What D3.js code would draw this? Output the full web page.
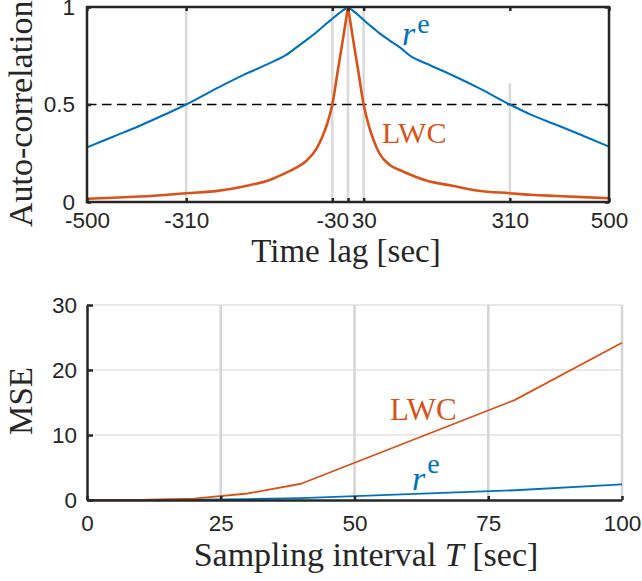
<!DOCTYPE html>
<html>
<head>
<meta charset="utf-8">
<script src="https://cdn.jsdelivr.net/npm/d3@7"></script>
<style>
  html, body { margin: 0; padding: 0; background: #fff; }
  svg { display: block; }
</style>
</head>
<body>
<svg id="chart" width="642" height="581"></svg>
<script>
// ---------- data: top panel (auto-correlation) ----------
const lags = [-500,-450,-400,-350,-310,-250,-200,-150,-120,-100,-80,-60,-50,-40,-30,-20,-10,0,
              10,20,30,40,50,60,80,100,120,150,200,250,310,350,400,450,500];
const acfRe = [0.28,0.335,0.39,0.45,0.5,0.585,0.652,0.712,0.752,0.79,0.83,0.872,0.895,0.918,0.94,0.962,0.982,1,
               0.98,0.958,0.933,0.91,0.888,0.866,0.828,0.792,0.748,0.71,0.65,0.585,0.5,0.448,0.395,0.34,0.284];
const acfLWC = [0.017,0.022,0.028,0.036,0.045,0.057,0.08,0.113,0.148,0.175,0.21,0.275,0.33,0.4,0.5,0.665,0.83,1,
                0.83,0.665,0.5,0.39,0.31,0.25,0.19,0.163,0.14,0.11,0.083,0.058,0.045,0.037,0.031,0.025,0.019];
const lagTicks = [-500,-310,-30,0,30,310,500];
const lagTickLabels = ["-500","-310","-30","","30","310","500"];
const acfTicks = [0,0.5,1];
const acfTickLabels = ["0","0.5","1"];
const refLags = [-310,-30,0,30,310];
const refTops = [1,1,1,1,0.61];
const halfLevel = 0.5;

// ---------- data: bottom panel (MSE) ----------
const Tvals = [0,10,20,30,40,80,100];
const mseLWC = [0,0.03,0.2,1.0,2.5,15.4,24.2];
const mseRe = [0,0.01,0.05,0.15,0.3,1.5,2.4];
const TTicks = [0,25,50,75,100];
const TTickLabels = ["0","25","50","75","100"];
const mseTicks = [0,10,20,30];
const mseTickLabels = ["0","10","20","30"];
const TGrid = [25,50,75,100];
const mseGrid = [10,20,30];

// ---------- styles ----------
const BLUE = "#0072BD", ORANGE = "#D95319", AX = "#262626";
const SANS = "'Liberation Sans', Arial, sans-serif";
const SERIF = "'Liberation Serif', 'Times New Roman', serif";
const TICKFS = "22.5px";

const svg = d3.select("#chart");

// ================= TOP PANEL =================
const xT = d3.scaleLinear().domain([-500,500]).range([87,609]);
const yT = d3.scaleLinear().domain([0,1]).range([202,7]);
const gT = svg.append("g");

// reference grey lines
gT.selectAll("line.ref").data(refLags).join("line")
  .attr("x1", d => xT(d)).attr("x2", d => xT(d))
  .attr("y1", yT(0)).attr("y2", (d,i) => yT(refTops[i]))
  .attr("stroke", "#dadada").attr("stroke-width", 2.6);

// dashed 0.5 line
gT.append("line")
  .attr("x1", xT(-500)).attr("x2", xT(500))
  .attr("y1", yT(halfLevel)).attr("y2", yT(halfLevel))
  .attr("stroke", "#000").attr("stroke-width", 1.6)
  .attr("stroke-dasharray", "9.5,5.5");

// each curve drawn as two smooth halves meeting at the sharp peak (lag 0)
const peak = lags.indexOf(0);
const lineGen = d3.line().curve(d3.curveMonotoneX).x(d => xT(d[0])).y(d => yT(d[1]));
const halves = (vals) => {
  const pts = lags.map((l,i) => [l, vals[i]]);
  return lineGen(pts.slice(0, peak+1)) + lineGen(pts.slice(peak));
};
gT.append("path").attr("d", halves(acfRe)).attr("fill","none")
  .attr("stroke", BLUE).attr("stroke-width", 2.1).attr("stroke-linejoin","round");
gT.append("path").attr("d", halves(acfLWC)).attr("fill","none")
  .attr("stroke", ORANGE).attr("stroke-width", 2.6).attr("stroke-linejoin","round");

// axes (ticks inward)
const axBT = gT.append("g").attr("transform", `translate(0,${yT(0)})`)
  .call(d3.axisBottom(xT).tickValues(lagTicks).tickFormat((d,i) => lagTickLabels[i])
        .tickSizeInner(-4).tickSizeOuter(0).tickPadding(10));
const axTT = gT.append("g").attr("transform", `translate(0,${yT(1)})`)
  .call(d3.axisTop(xT).tickValues(lagTicks).tickFormat("").tickSizeInner(-4).tickSizeOuter(0));
const axLT = gT.append("g").attr("transform", `translate(${xT(-500)},0)`)
  .call(d3.axisLeft(yT).tickValues(acfTicks).tickFormat((d,i) => acfTickLabels[i])
        .tickSizeInner(-4).tickSizeOuter(0).tickPadding(12));
const axRT = gT.append("g").attr("transform", `translate(${xT(500)},0)`)
  .call(d3.axisRight(yT).tickValues(acfTicks).tickFormat("").tickSizeInner(-4).tickSizeOuter(0));
[axBT, axTT, axLT, axRT].forEach(a => {
  a.select(".domain").remove();
  a.selectAll(".tick line").attr("stroke", AX).attr("stroke-width", 2.5);
  a.selectAll(".tick text").attr("fill", AX).style("font-family", SANS).style("font-size", TICKFS);
});
// box
gT.append("rect").attr("x", xT(-500)).attr("y", yT(1))
  .attr("width", xT(500)-xT(-500)).attr("height", yT(0)-yT(1))
  .attr("fill","none").attr("stroke", AX).attr("stroke-width", 2.5);

// labels
gT.append("text").attr("x", 346).attr("y", 262).attr("text-anchor","middle")
  .style("font-family", SERIF).style("font-size","33px").attr("fill", AX)
  .text("Time lag [sec]");
gT.append("text").attr("transform","translate(32,227) rotate(-90)").attr("text-anchor","start")
  .style("font-family", SERIF).style("font-size","34px").attr("fill", AX)
  .text("Auto-correlation");
gT.append("text").attr("x", 382).attr("y", 143)
  .style("font-family", SERIF).style("font-size","30px").attr("fill", ORANGE).text("LWC");
const reT = gT.append("text").attr("x", 402).attr("y", 45).attr("fill", BLUE).style("font-family", SERIF);
reT.append("tspan").style("font-style","italic").style("font-size","34px").text("r");
reT.append("tspan").attr("dx", 2).attr("dy", -12).style("font-size","28px").text("e");

// ================= BOTTOM PANEL =================
const xB = d3.scaleLinear().domain([0,100]).range([87,622]);
const yB = d3.scaleLinear().domain([0,30]).range([500,305]);
const gB = svg.append("g");

// horizontal grid
gB.selectAll("line.hg").data(mseGrid).join("line")
  .attr("x1", xB(0)).attr("x2", xB(100)).attr("y1", d => yB(d)).attr("y2", d => yB(d))
  .attr("stroke", "#e2e2e2").attr("stroke-width", 1.3);
// vertical grey lines
gB.selectAll("line.vg").data(TGrid).join("line")
  .attr("x1", d => xB(d)).attr("x2", d => xB(d)).attr("y1", yB(0)).attr("y2", yB(30))
  .attr("stroke", "#d6d6d6").attr("stroke-width", 2.6);

const lineB = (vals) => d3.line().x((d,i) => xB(Tvals[i])).y(d => yB(d))(vals);
gB.append("path").attr("d", lineB(mseRe)).attr("fill","none")
  .attr("stroke", BLUE).attr("stroke-width", 1.8).attr("stroke-linejoin","round");
gB.append("path").attr("d", lineB(mseLWC)).attr("fill","none")
  .attr("stroke", ORANGE).attr("stroke-width", 1.8).attr("stroke-linejoin","round");

const axBB = gB.append("g").attr("transform", `translate(0,${yB(0)})`)
  .call(d3.axisBottom(xB).tickValues(TTicks).tickFormat((d,i) => TTickLabels[i])
        .tickSizeInner(-4).tickSizeOuter(0).tickPadding(15));
const axLB = gB.append("g").attr("transform", `translate(${xB(0)},0)`)
  .call(d3.axisLeft(yB).tickValues(mseTicks).tickFormat((d,i) => mseTickLabels[i])
        .tickSizeInner(-6).tickSizeOuter(0).tickPadding(10));
[axBB, axLB].forEach(a => {
  a.select(".domain").attr("stroke", AX).attr("stroke-width", 2.5);
  a.selectAll(".tick line").attr("stroke", AX).attr("stroke-width", 2.5);
  a.selectAll(".tick text").attr("fill", AX).style("font-family", SANS).style("font-size", TICKFS);
});

gB.append("text").attr("x", 366).attr("y", 566).attr("text-anchor","middle")
  .style("font-family", SERIF).style("font-size","34px").attr("fill", AX)
  .call(t => {
    t.append("tspan").text("Sampling interval ");
    t.append("tspan").style("font-style","italic").text("T");
    t.append("tspan").text(" [sec]");
  });
gB.append("text").attr("transform","translate(32,401) rotate(-90)").attr("text-anchor","middle")
  .style("font-family", SERIF).style("font-size","33px").attr("fill", AX).text("MSE");
gB.append("text").attr("x", 390).attr("y", 420)
  .style("font-family", SERIF).style("font-size","31px").attr("fill", ORANGE).text("LWC");
const reB = gB.append("text").attr("x", 412).attr("y", 490).attr("fill", BLUE).style("font-family", SERIF);
reB.append("tspan").style("font-style","italic").style("font-size","34px").text("r");
reB.append("tspan").attr("dx", 2).attr("dy", -17).style("font-size","28px").text("e");
</script>
</body>
</html>
